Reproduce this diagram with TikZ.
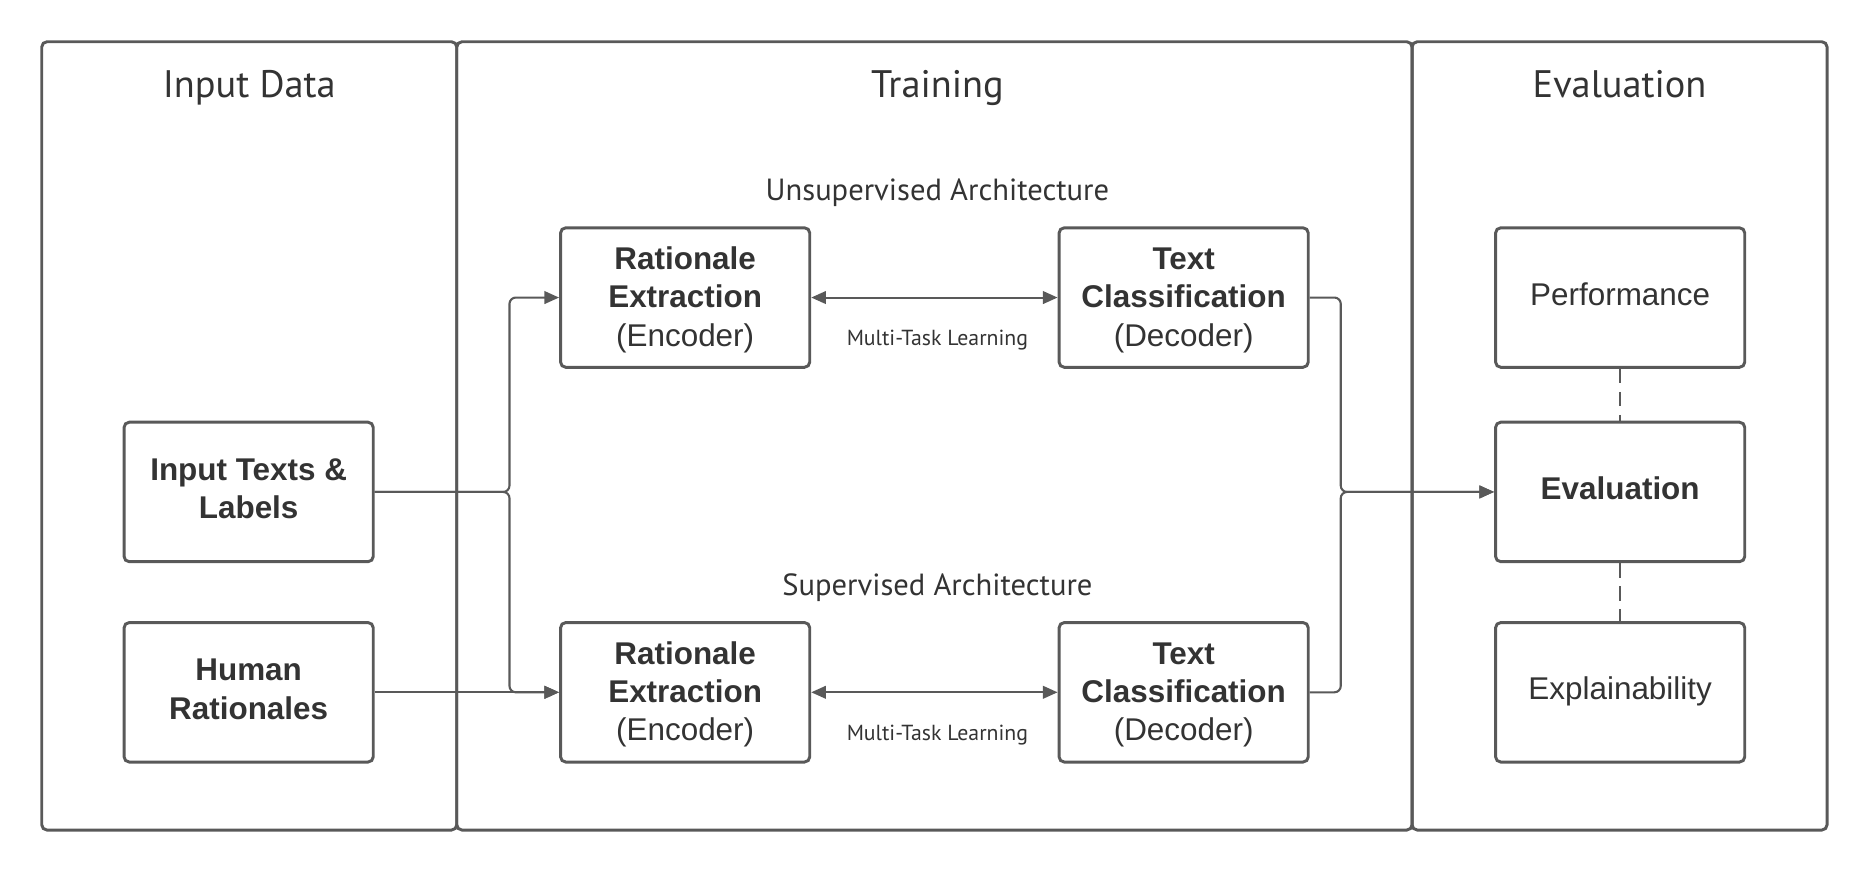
\documentclass[tikz,border=0pt]{standalone}
\usepackage{fontspec}
\setmainfont{Liberation Sans}
\newfontfamily\notefont{PT Sans}
\usepackage{xcolor}
\usetikzlibrary{arrows.meta}
\definecolor{linegray}{HTML}{595959}
\definecolor{textgray}{HTML}{333333}

\begin{document}
\begin{tikzpicture}[x=0.02cm,y=-0.02cm,
  panel/.style={draw=linegray,line width=1.4pt,rounded corners=2.5pt},
  block/.style={draw=linegray,line width=1.4pt,rounded corners=2.5pt,fill=white,
    minimum width=4.18cm,minimum height=2.34cm,inner sep=0pt,align=center,
    text=textgray,font=\fontsize{15}{18.3}\selectfont},
  heading/.style={anchor=base,text=textgray,font=\notefont\fontsize{18.3}{20}\selectfont},
  archlabel/.style={anchor=base,text=textgray,font=\notefont\fontsize{14.6}{16}\selectfont},
  mtl/.style={anchor=base,text=textgray,font=\notefont\fontsize{10.4}{12}\selectfont},
  conn/.style={draw=linegray,line width=1pt,rounded corners=3pt,
    -{Triangle[length=7pt,width=6pt]}},
  twoway/.style={draw=linegray,line width=1pt,
    {Triangle[length=7pt,width=6pt]}-{Triangle[length=7pt,width=6pt]}},
  link/.style={draw=linegray,line width=1pt,dash pattern=on 7pt off 4pt}]
  \useasboundingbox (0,0) rectangle (1568,732);

  % panels
  \draw[panel] (35,35) rectangle (383,696);
  \draw[panel] (383,35) rectangle (1184,696);
  \draw[panel] (1184,35) rectangle (1532,696);
  \node[heading] (tinput) at (209,82) {Input Data};
  \node[heading] (ttrain) at (786,82) {Training};
  \node[heading] (teval) at (1358,82) {Evaluation};

  % input data
  \node[block] (itl) at (208.5,412.5) {\strut\textbf{Input Texts \&}\\\textbf{Labels}\strut};
  \node[block] (hr) at (208.5,580.5) {\strut\textbf{Human}\\\textbf{Rationales}\strut};

  % training
  \node[archlabel] (tunsup) at (786,168) {Unsupervised Architecture};
  \node[block] (ure) at (574.5,249.5) {\strut\textbf{Rationale}\\\textbf{Extraction}\\(Encoder)};
  \node[block] (utc) at (992.5,249.5) {\strut\textbf{Text}\\\textbf{Classification}\\(Decoder)};
  \node[mtl] (umtl) at (786,289.5) {Multi-Task Learning};

  \node[archlabel] (tsup) at (786,499) {Supervised Architecture};
  \node[block] (sre) at (574.5,580.5) {\strut\textbf{Rationale}\\\textbf{Extraction}\\(Encoder)};
  \node[block] (stc) at (992.5,580.5) {\strut\textbf{Text}\\\textbf{Classification}\\(Decoder)};
  \node[mtl] (smtl) at (786,620.5) {Multi-Task Learning};

  % evaluation
  \node[block] (perf) at (1358.5,249.5) {\strut Performance};
  \node[block] (ev) at (1358.5,412.5) {\strut\textbf{Evaluation}};
  \node[block] (expl) at (1358.5,580.5) {\strut Explainability};

  % connectors
  \draw[conn] (itl.east) -- ++(113,0) |- (ure.west);
  \draw[conn] (itl.east) -- ++(113,0) |- (sre.west);
  \draw[conn] (hr.east) -- (sre.west);
  \draw[twoway] (ure.east) -- (utc.west);
  \draw[twoway] (sre.east) -- (stc.west);
  \draw[conn] (utc.east) -- ++(26,0) |- (ev.west);
  \draw[conn] (stc.east) -- ++(26,0) |- (ev.west);
  \draw[link] (perf.south) -- (ev.north);
  \draw[link] (ev.south) -- (expl.north);
\end{tikzpicture}
\end{document}
